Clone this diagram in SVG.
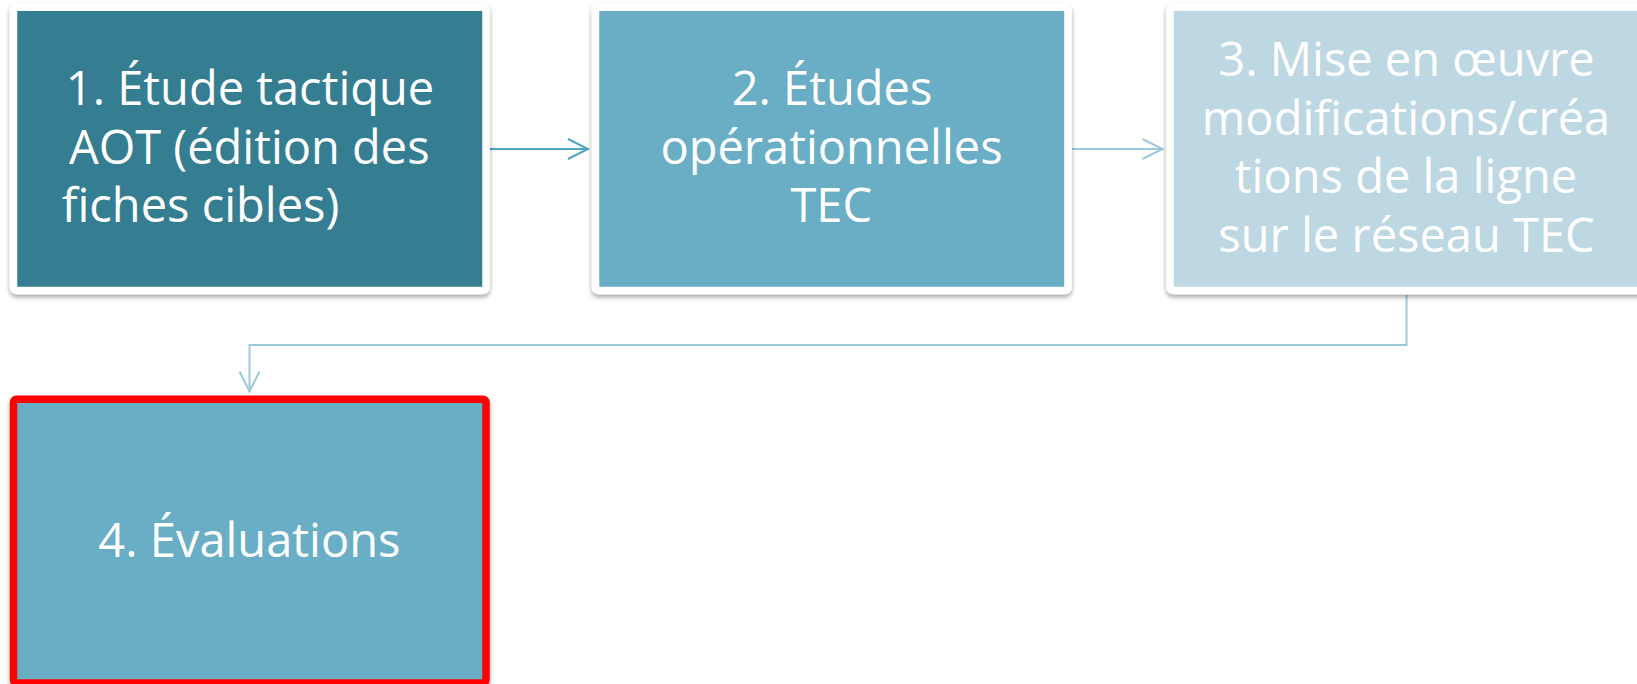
<svg xmlns="http://www.w3.org/2000/svg" width="1637" height="684" viewBox="0 0 1637 684">
  <style>
    .box { stroke: #ffffff; stroke-width: 7.5; filter: url(#shadow); }
    .dark { fill: #367D91; }
    .mid { fill: #6AAEC6; }
    .light { fill: #BDD8E2; }
    .hl { stroke: #FF0000; }
    .lbl { font-family: "Open Sans", "Noto Sans", "Liberation Sans", sans-serif; font-size: 47px; fill: #ffffff; text-anchor: middle; }
    .c1 { fill: none; stroke: #4FA6C2; stroke-width: 2; }
    .c2 { fill: none; stroke: #9CC9D9; stroke-width: 2; }
  </style>
  <defs>
    <filter id="shadow" x="-5%" y="-5%" width="110%" height="115%">
      <feDropShadow dx="0" dy="3" stdDeviation="2.5" flood-color="#000000" flood-opacity="0.35"/>
    </filter>
    <marker id="ah1" markerUnits="userSpaceOnUse" markerWidth="26" markerHeight="26" refX="22" refY="12" orient="auto" overflow="visible">
      <path d="M2,2 L22,12 L2,22" fill="none" stroke="#4FA6C2" stroke-width="2"/>
    </marker>
    <marker id="ah2" markerUnits="userSpaceOnUse" markerWidth="26" markerHeight="26" refX="22" refY="12" orient="auto" overflow="visible">
      <path d="M2,2 L22,12 L2,22" fill="none" stroke="#9CC9D9" stroke-width="2"/>
    </marker>
  </defs>
  <rect width="1637" height="684" fill="#ffffff"/>

  <g id="connectors">
    <path class="c1" d="M490,149 H588" marker-end="url(#ah1)"/>
    <path class="c2" d="M1072,149 H1162.5" marker-end="url(#ah2)"/>
    <path class="c2" d="M1406.5,295 V345 H249.5 V391.5" marker-end="url(#ah2)"/>
  </g>

  <g id="node1">
    <rect class="box dark" x="13.5" y="7.3" width="472.5" height="283.3" rx="3"/>
    <text class="lbl" x="250" y="105">1. Étude tactique</text>
    <text class="lbl" x="249.3" y="163.8">AOT (édition des</text>
    <text class="lbl" x="200.5" y="221.7">fiches cibles)</text>
  </g>

  <g id="node2">
    <rect class="box mid" x="595.5" y="7.3" width="472.5" height="283.3" rx="3"/>
    <text class="lbl" x="832" y="105">2. Études</text>
    <text class="lbl" x="831.5" y="163.8">opérationnelles</text>
    <text class="lbl" x="831.3" y="221.7">TEC</text>
  </g>

  <g id="node3">
    <rect class="box light" x="1170" y="7.3" width="472.5" height="283.3" rx="3"/>
    <text class="lbl" x="1406.5" y="76">3. Mise en œuvre</text>
    <text class="lbl" x="1406" y="135">modifications/créa</text>
    <text class="lbl" x="1406" y="193.3">tions de la ligne</text>
    <text class="lbl" x="1406.5" y="251.7">sur le réseau TEC</text>
  </g>

  <g id="node4">
    <rect class="box mid hl" x="13.5" y="399.3" width="472.5" height="283.8" rx="3"/>
    <text class="lbl" x="249.4" y="557.3">4. Évaluations</text>
  </g>
</svg>
